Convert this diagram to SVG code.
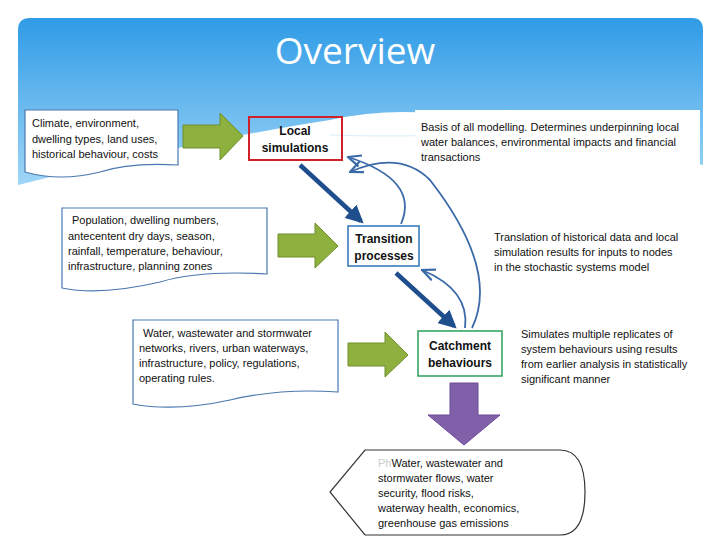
<svg xmlns="http://www.w3.org/2000/svg" width="720" height="540" viewBox="0 0 720 540">
<defs>
<linearGradient id="bg" x1="0" y1="0" x2="0" y2="1"><stop offset="0" stop-color="#2f9be6"/><stop offset="1" stop-color="#9fd6f7"/></linearGradient>
<marker id="thick" viewBox="0 0 10 10" refX="8" refY="5" markerWidth="4" markerHeight="4" orient="auto"><path d="M0,0 L10,5 L0,10 z" fill="#1f4e8c"/></marker>
<marker id="thin" viewBox="0 0 10 10" refX="9" refY="5" markerWidth="8" markerHeight="8" orient="auto"><path d="M0,1 L9,5 L0,9" fill="none" stroke="#3a6aa8" stroke-width="1.5"/></marker>
<style>
.t{font-family:"Liberation Sans",Arial,sans-serif;font-size:11px;fill:#111}
.b{font-family:"Liberation Sans",Arial,sans-serif;font-size:12px;font-weight:bold;fill:#111;text-anchor:middle}
.doc{fill:#fff;stroke:#4a78b0;stroke-width:1.2}
.ga{fill:#8db03e;stroke:#6f8f2c;stroke-width:1}
</style>
</defs>
<rect width="720" height="540" fill="#fff"/>
<path d="M18,30 Q18,18 30,18 L692,18 Q703,18 703,30 L703,165 Q600,150 520,130 Q420,100 330,120 Q200,140 18,185 Z" fill="url(#bg)"/>
<path d="M330,135 Q460,140 700,120" fill="none" stroke="#d8eefa" stroke-width="1"/>
<text x="355" y="64" font-family="Open Sans,Liberation Sans,sans-serif" font-size="37" fill="#fff" text-anchor="middle">Overview</text>
<g id="in1"><path class="doc" d="M25,110 H178 V165 Q130,162 100,172 Q60,182 25,172 Z"/>
<text class="t" x="32" y="127">Climate, environment,</text><text class="t" x="32" y="143">dwelling types, land uses,</text><text class="t" x="32" y="158">historical behaviour, costs</text></g>
<g id="in2"><path class="doc" d="M62,208 H267 V274 Q200,270 160,282 Q100,296 62,288 Z"/>
<text class="t" x="72" y="224">Population, dwelling numbers,</text><text class="t" x="68" y="240">antecentent dry days, season,</text><text class="t" x="68" y="255">rainfall, temperature, behaviour,</text><text class="t" x="68" y="270">infrastructure, planning zones</text></g>
<g id="in3"><path class="doc" d="M133,320 H338 V392 Q280,388 230,400 Q175,412 133,404 Z"/>
<text class="t" x="143" y="337">Water, wastewater and stormwater</text><text class="t" x="139" y="352">networks, rivers, urban waterways,</text><text class="t" x="139" y="367">infrastructure, policy, regulations,</text><text class="t" x="139" y="382">operating rules.</text></g>
<path class="ga" d="M183,125 H220 V113 L243,136 L220,160 V148 H183 Z"/>
<path class="ga" d="M278,234 H315 V223 L338,246 L315,268 V257 H278 Z"/>
<path class="ga" d="M348,343 H385 V332 L408,355 L385,377 V366 H348 Z"/>
<g id="local"><rect x="249" y="117" width="93" height="43" fill="none" stroke="#d0202a" stroke-width="2"/>
<text class="b" x="295" y="135">Local</text><text class="b" x="295" y="152">simulations</text></g>
<g id="trans"><rect x="348" y="226" width="71" height="40" fill="#fff" stroke="#2e75b6" stroke-width="1.5"/>
<text class="b" x="384" y="243">Transition</text><text class="b" x="384" y="260">processes</text></g>
<g id="catch"><rect x="418" y="331" width="84" height="45" fill="#fff" stroke="#2aa05a" stroke-width="1.5"/>
<text class="b" x="460" y="350">Catchment</text><text class="b" x="460" y="367">behaviours</text></g>
<g id="note1"><rect x="415" y="110" width="285" height="60" fill="#fff"/>
<text class="t" x="421" y="131">Basis of all modelling. Determines underpinning local</text><text class="t" x="421" y="146">water balances, environmental impacts and financial</text><text class="t" x="421" y="161">transactions</text></g>
<g id="note2"><text class="t" x="494" y="241">Translation of historical data and local</text><text class="t" x="494" y="256">simulation results for inputs to nodes</text><text class="t" x="494" y="271">in the stochastic systems model</text></g>
<g id="note3"><text class="t" x="521" y="338">Simulates multiple replicates of</text><text class="t" x="521" y="353">system behaviours using results</text><text class="t" x="521" y="368">from earlier analysis in statistically</text><text class="t" x="521" y="383">significant manner</text></g>
<g id="connectors">
<line x1="300" y1="165" x2="361" y2="221" stroke="#1f4e8c" stroke-width="4.5" marker-end="url(#thick)"/>
<line x1="396" y1="273" x2="454" y2="326" stroke="#1f4e8c" stroke-width="4.5" marker-end="url(#thick)"/>
<path d="M401,224 Q420,180 348,157" fill="none" stroke="#3a6aa8" stroke-width="1.8" marker-end="url(#thin)"/>
<path d="M465,328 Q470,290 422,270" fill="none" stroke="#3a6aa8" stroke-width="1.8" marker-end="url(#thin)"/>
<path d="M472,328 Q500,270 430,180 Q400,150 350,172" fill="none" stroke="#3a6aa8" stroke-width="1.8" marker-end="url(#thin)"/>
<path d="M450,383 H478 V415 H500 L464,445 L428,415 H450 Z" fill="#8060a8" stroke="#6a4a94"/>
</g>
<g id="out"><path d="M365,450 H560 Q585,450 585,492 Q585,535 560,535 H365 L330,492 Z" fill="#fff" stroke="#333" stroke-width="1.2"/>
<text class="t" x="378" y="467"><tspan fill="#ccc">Ph</tspan>Water, wastewater and</text><text class="t" x="378" y="482">stormwater flows, water</text><text class="t" x="378" y="497">security, flood risks,</text><text class="t" x="378" y="512">waterway health, economics,</text><text class="t" x="378" y="527">greenhouse gas emissions</text></g>
</svg>
